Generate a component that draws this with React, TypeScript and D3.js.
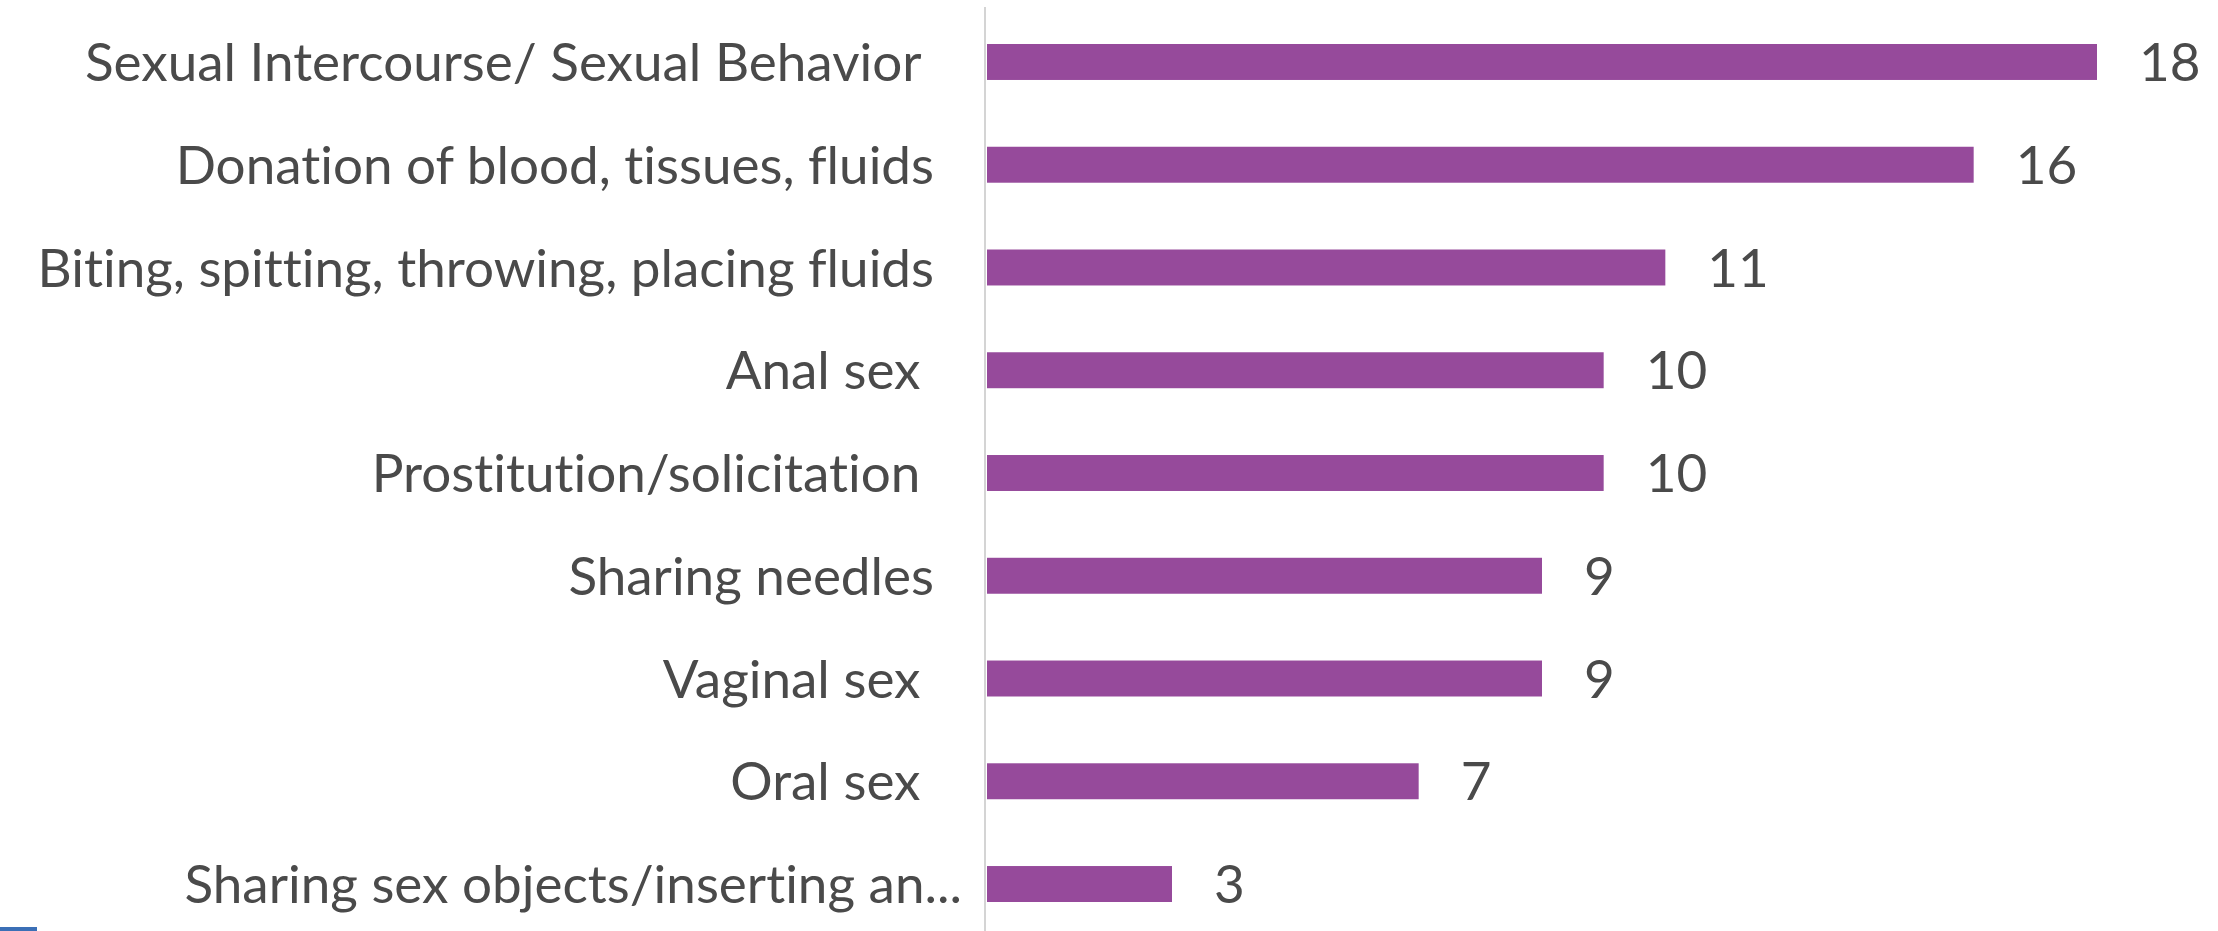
import React from "react";
import * as d3 from "d3";

const categories: string[] = [
  "Sexual Intercourse/ Sexual Behavior ",
  "Donation of blood, tissues, fluids",
  "Biting, spitting, throwing, placing fluids",
  "Anal sex ",
  "Prostitution/solicitation ",
  "Sharing needles",
  "Vaginal sex ",
  "Oral sex ",
  "Sharing sex objects/inserting an...",
];
const values: number[] = [18, 16, 11, 10, 10, 9, 9, 7, 3];

const W = 2218;
const H = 931;
const FONT = "Lato, 'Open Sans', sans-serif";
const FS = 53;
const BAR = "#964a9b";
const TEXT = "#4a4a4a";

export default function App() {
  const x = d3.scaleLinear().domain([0, 18]).range([987, 2097]);
  const y = d3
    .scaleBand<string>()
    .domain(categories)
    .range([10.6, 935.4])
    .paddingInner(0.65)
    .paddingOuter(0.325);
  const bw = y.bandwidth();
  const capHalf = FS * 0.36;

  return (
    <svg
      width={W}
      height={H}
      style={{ position: "absolute", left: 0, top: 0, background: "#fff" }}
    >
      <rect x={0} y={0} width={W} height={H} fill="#fff" />
      <line x1={x(0) - 2} x2={x(0) - 2} y1={7} y2={H} stroke="#d4d4d4" strokeWidth={2} />
      {categories.map((c, i) => {
        const yc = (y(c) as number) + bw / 2;
        const truncated = c.endsWith("...");
        return (
          <g key={c}>
            <rect x={x(0)} y={y(c)} width={x(values[i]) - x(0)} height={bw} fill={BAR} />
            <text
              x={truncated ? x(0) - 25 : x(0) - 53}
              y={yc + capHalf}
              textAnchor="end"
              fontFamily={FONT}
              fontSize={FS}
              fill={TEXT}
              style={{ whiteSpace: "pre", fontVariantLigatures: "none" }}
            >
              {c}
            </text>
            <text
              x={x(values[i]) + 42}
              y={yc + capHalf}
              fontFamily={FONT}
              fontSize={FS}
              fill={TEXT}
            >
              {values[i]}
            </text>
          </g>
        );
      })}
      <rect x={0} y={927} width={37} height={4} fill="#3b6fb6" />
    </svg>
  );
}
